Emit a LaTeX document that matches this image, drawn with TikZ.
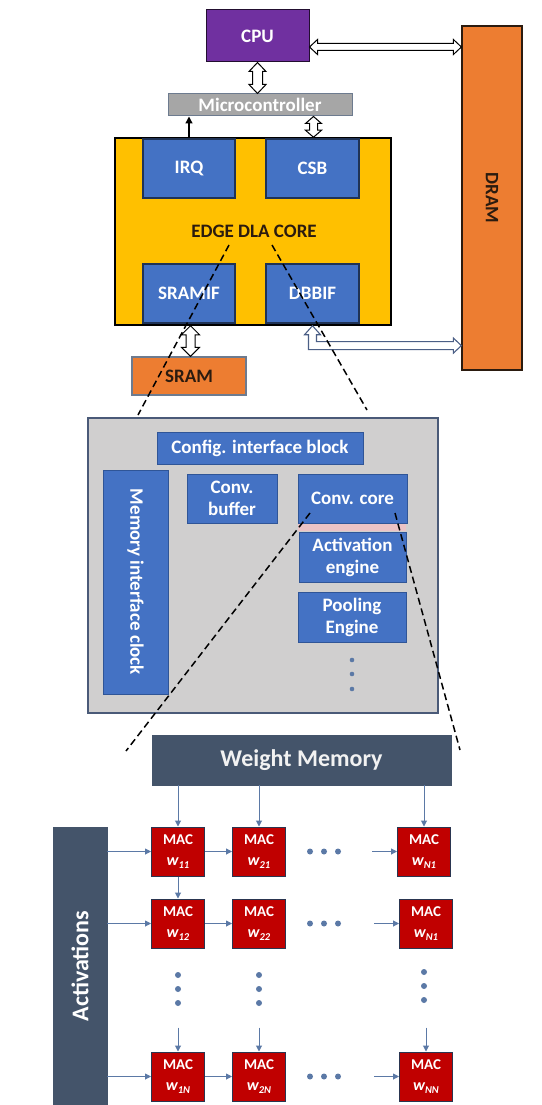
\documentclass[tikz,border=0pt]{standalone}
\usepackage{fontspec}
\setmainfont{Carlito}
\usetikzlibrary{arrows.meta,calc}
\definecolor{cpupurple}{HTML}{7030A0}
\definecolor{orng}{HTML}{ED7D31}
\definecolor{yell}{HTML}{FFC000}
\definecolor{blu}{HTML}{4472C4}
\definecolor{bluborder}{HTML}{1F3356}
\definecolor{bluborder2}{HTML}{2F5597}
\definecolor{mcgray}{HTML}{A6A6A6}
\definecolor{mcborder}{HTML}{6D7B8F}
\definecolor{panel}{HTML}{D0CFCF}
\definecolor{panelborder}{HTML}{4A5A78}
\definecolor{slate}{HTML}{44546A}
\definecolor{macred}{HTML}{C00000}
\definecolor{macborder}{HTML}{2A3550}
\definecolor{arrblue}{HTML}{5B79A6}
\definecolor{darktxt}{HTML}{2B1B0F}
\definecolor{lgray}{HTML}{4B5F86}
\definecolor{pinkband}{HTML}{EBC3C6}
\newcommand{\lbl}{\fontsize{19}{22}\selectfont\bfseries}
\newcommand{\macl}[1]{MAC\\[3pt]{\fontsize{16}{22}\selectfont\itshape w\raisebox{-3pt}{\fontsize{10.5}{10}\selectfont #1}}}
\newcommand{\hollowv}[6]{%
\draw[#6] let \p1=#1, \p2=#2 in (\x1,\y1) -- (\x1+#4,\y1-#5) -- (\x1+#3,\y1-#5) -- (\x1+#3,\y2+#5) -- (\x1+#4,\y2+#5) -- (\x1,\y2) -- (\x1-#4,\y2+#5) -- (\x1-#3,\y2+#5) -- (\x1-#3,\y1-#5) -- (\x1-#4,\y1-#5) -- cycle;}
\newcommand{\hollowh}[6]{%
\draw[#6] let \p1=#1, \p2=#2 in (\x1,\y1) -- (\x1+#5,\y1+#4) -- (\x1+#5,\y1+#3) -- (\x2-#5,\y1+#3) -- (\x2-#5,\y1+#4) -- (\x2,\y1) -- (\x2-#5,\y1-#4) -- (\x2-#5,\y1-#3) -- (\x1+#5,\y1-#3) -- (\x1+#5,\y1-#4) -- cycle;}
\begin{document}
\begin{tikzpicture}[x=1pt,y=-1pt,
  box/.style={draw, inner sep=0pt, align=center, font=\lbl},
  bluebox/.style={box, fill=blu, draw=bluborder, line width=1.2pt, text=white},
  innerbox/.style={box, fill=blu, draw=bluborder2, line width=0.8pt, text=white},
  macbox/.style={draw=macborder, fill=macred, line width=1pt, text=white, inner sep=0pt, align=center, minimum width=53pt, minimum height=49pt, font=\fontsize{15}{18}\selectfont\bfseries},
  hol/.style={draw=black, fill=white, line width=1pt, line join=miter},
  holb/.style={draw=lgray, fill=white, line width=1.1pt, line join=miter},
  flow/.style={draw=arrblue, line width=1pt, -{Triangle[length=6pt,width=6pt]}},
  zoomline/.style={draw=black, line width=1.5pt, dash pattern=on 7pt off 4pt},
  dotc/.style={fill=arrblue, draw=none}]
\useasboundingbox (0,0) rectangle (541,1105);
\fill[white] (0,0) rectangle (541,1105);

% ---- top system ----
\node[box, fill=cpupurple, draw=black!70!cpupurple, line width=1pt, text=white, minimum width=103pt, minimum height=52pt] (cpu) at (257.5,36) {CPU};
\node[box, fill=orng, draw=darktxt, line width=1.2pt, minimum width=60pt, minimum height=344pt] (dram) at (492,198) {};
\node[rotate=-90, font=\lbl, text=darktxt] (dramt) at (dram.center) {DRAM};
\node[box, fill=mcgray, draw=mcborder, line width=1pt, text=white, minimum width=184pt, minimum height=22pt] (mc) at (260,105) {Microcontroller};
\node[box, fill=yell, draw=black, line width=1.5pt, minimum width=276pt, minimum height=187pt] (core) at (253,231.5) {};
\node[font=\lbl, text=darktxt] (coret) at (254,231) {EDGE DLA CORE};
\node[bluebox, minimum width=92pt, minimum height=59pt] (irq) at (189,168.5) {IRQ};
\node[bluebox, minimum width=93pt, minimum height=59pt] (csb) at (312.5,168.5) {CSB};
\node[bluebox, minimum width=92pt, minimum height=59pt] (sramif) at (189,293.5) {SRAMIF};
\node[bluebox, minimum width=93pt, minimum height=59pt] (dbbif) at (312.5,293.5) {DBBIF};
\node[box, fill=orng, draw=mcborder, line width=1.2pt, text=darktxt, minimum width=114pt, minimum height=38pt] (sram) at (189,376) {SRAM};

\coordinate (cpuR) at ([yshift=-11pt]cpu.east);
\hollowh{(cpuR)}{(cpuR -| dram.west)}{3.5pt}{7.5pt}{8pt}{hol}
\hollowv{(cpu.south)}{(cpu.south |- mc.north)}{5pt}{8.5pt}{9pt}{hol}
\hollowv{([xshift=1pt]csb.north |- mc.south)}{([xshift=1pt]csb.north |- core.north)}{4pt}{8pt}{7pt}{hol}
\hollowv{([xshift=1.5pt]sramif.south |- core.south)}{([xshift=1.5pt]sramif.south |- sram.north)}{4.5pt}{9pt}{9pt}{hol}
\draw[line width=1.3pt, -{Triangle[length=7pt,width=7pt]}] (irq.north |- core.north) -- (irq.north |- mc.south);

% L-shaped hollow arrow DBBIF -- DRAM
\coordinate (dl) at ([yshift=25pt]dram.south west);
\draw[holb] let \p1=(dbbif.south |- core.south), \p2=(dl) in
  (\x1,\y1) -- (\x1+8pt,\y1-9pt) -- (\x1+4pt,\y1-9pt) -- (\x1+4pt,\y2+4pt) -- (\x2-8pt,\y2+4pt) -- (\x2-8pt,\y2+7.5pt) -- (\x2,\y2)
  -- (\x2-8pt,\y2-7.5pt) -- (\x2-8pt,\y2-4pt) -- (\x1-4pt,\y2-4pt) -- (\x1-4pt,\y1-9pt) -- (\x1-8pt,\y1-9pt) -- cycle;

% ---- core detail panel ----
\node[draw=panelborder, fill=panel, line width=1.3pt, minimum width=350pt, minimum height=295pt, inner sep=0pt] (panel) at (263,565.5) {};
\node[innerbox, minimum width=206pt, minimum height=32pt] (cfg) at (260,448) {Config. interface block};
\node[innerbox, minimum width=65pt, minimum height=224pt] (mic) at (135.5,582) {};
\node[rotate=-90, font=\lbl, text=white] (mict) at (mic.center) {Memory interface clock};
\node[innerbox, minimum width=90pt, minimum height=49pt] (cbuf) at (232,498.5) {Conv.\\buffer};
\node[innerbox, minimum width=109pt, minimum height=49pt] (ccore) at (352.5,498.5) {Conv. core};
\node[innerbox, minimum width=107pt, minimum height=50pt] (act) at (352.5,557) {Activation\\engine};
\fill[pinkband] ([yshift=-0.5pt]ccore.south west) rectangle ([yshift=0.5pt]act.north east);
\node[innerbox, minimum width=108pt, minimum height=50pt] (pool) at (352,617) {Pooling\\Engine};
\foreach \yy in {660,674,689} \fill[dotc] (352,\yy) circle (2.3pt);

% ---- MAC array ----
\node[box, fill=slate, draw=slate, text=white!95!black, minimum width=299pt, minimum height=50pt, font=\fontsize{24}{26}\selectfont\bfseries] (wm) at (301.5,760) {Weight Memory};
\node[box, fill=slate, draw=slate, minimum width=54pt, minimum height=278pt] (acts) at (80,966) {};
\node[rotate=90, text=white, font=\fontsize{24}{26}\selectfont\bfseries] (actst) at (acts.center) {Activations};

\node[macbox] (m11) at (178,851.5) {\macl{11}};
\node[macbox] (m21) at (259,851.5) {\macl{21}};
\node[macbox] (mN1) at (424,851.5) {\macl{N1}};
\node[macbox] (m12) at (178,923.5) {\macl{12}};
\node[macbox] (m22) at (259,923.5) {\macl{22}};
\node[macbox] (mN2) at (426,923.5) {\macl{N1}};
\node[macbox] (m1N) at (178,1076.5) {\macl{1N}};
\node[macbox] (m2N) at (259,1076.5) {\macl{2N}};
\node[macbox] (mNN) at (426,1076.5) {\macl{NN}};

\foreach \m in {m11,m21,mN1} \draw[flow] (wm.south -| \m.north) -- (\m.north);
\draw[flow] (m11.south) -- (m12.north);
\foreach \a/\b/\c in {m11/m21/mN1, m12/m22/mN2, m1N/m2N/mNN}{
  \draw[flow] (acts.east |- \a.west) -- (\a.west);
  \draw[flow] (\a.east) -- (\b.west);
  \coordinate (s\c) at ([xshift=-25pt]\c.west);
  \draw[flow] (s\c) -- (\c.west);
}
\foreach \r in {851.5,923.5,1076.5} \foreach \xx in {310,324,338} \fill[dotc] (\xx,\r) circle (3pt);
\foreach \xx in {178,259} \foreach \yy in {975,989,1003} \fill[dotc] (\xx,\yy) circle (3pt);
\foreach \yy in {972,986,1000} \fill[dotc] (424,\yy) circle (3pt);
\foreach \m in {m1N,m2N,mNN}{
  \coordinate (t\m) at ([yshift=24pt]\m.north);
  \draw[flow] (t\m) -- (\m.north);
}

% ---- zoom lines ----
\coordinate (z1a) at (229,245);
\coordinate (z1b) at (138,415);
\coordinate (z2a) at (272,245);
\coordinate (z2b) at (367,410);
\coordinate (z3a) at (310,513);
\coordinate (z3b) at (126,751);
\coordinate (z4a) at (395,513);
\coordinate (z4b) at (460,750);
\draw[zoomline] (z1a) -- (z1b);
\draw[zoomline] (z2a) -- (z2b);
\draw[zoomline] (z3a) -- (z3b);
\draw[zoomline] (z4a) -- (z4b);
\end{tikzpicture}
\end{document}
